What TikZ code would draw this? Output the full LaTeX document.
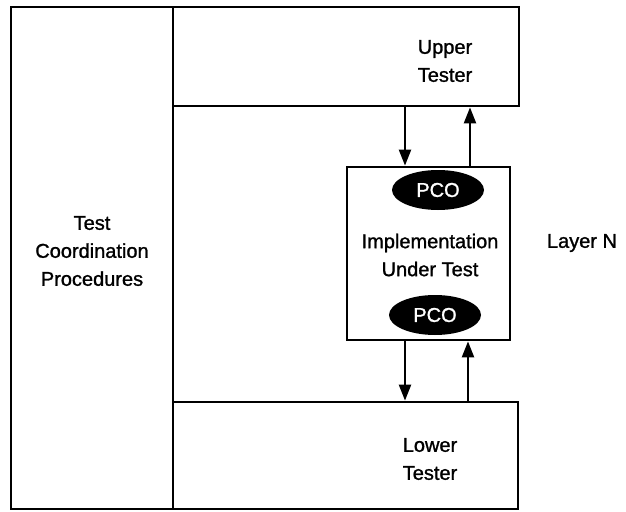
\documentclass[tikz,border=0pt]{standalone}
\usepackage{fontspec}
\setmainfont{Liberation Sans}
\newfontfamily\heavyfont{Liberation Sans}[FakeBold=1.2]
\usetikzlibrary{arrows.meta,shapes.geometric}
\begin{document}
\begin{tikzpicture}[x=1pt,y=-1pt,
  box/.style={draw,line width=2.8pt,rectangle,inner sep=0pt},
  lbl/.style={font=\heavyfont\fontsize{20}{28}\selectfont,align=center},
  pco/.style={ellipse,fill=black,text=white,minimum width=92pt,minimum height=40pt,inner sep=0pt,font=\heavyfont\fontsize{20}{24}\selectfont},
  arr/.style={line width=2.2pt,-{Triangle[length=16pt,width=12pt]}}]
\useasboundingbox (0,0) rectangle (626,511);
\node[box,minimum width=162pt,minimum height=502pt] (tcp) at (92,258) {};
\node[box,minimum width=346pt,minimum height=99pt] (upper) at (346,56.5) {};
\node[box,minimum width=345pt,minimum height=107pt] (lower) at (345.5,455.5) {};
\node[box,minimum width=163pt,minimum height=173pt] (iut) at (428.5,253.5) {};
\node[lbl] (tcpt) at (92,251) {Test\\Coordination\\Procedures};
\node[lbl] (uppert) at (445,61) {Upper\\Tester};
\node[lbl] (lowert) at (430,459) {Lower\\Tester};
\node[lbl] (iutt) at (430,255) {Implementation\\Under Test};
\node[lbl] (layer) at (582,243) {Layer N};
\node[pco] (pco1) at (438,190) {PCO};
\node[pco] (pco2) at (435,315) {PCO};
\draw[arr] (upper.south -| 405,0) -- (iut.north -| 405,0);
\draw[arr] (iut.north -| 470,0) -- (upper.south -| 470,0);
\draw[arr] (iut.south -| 405,0) -- (lower.north -| 405,0);
\draw[arr] (lower.north -| 468,0) -- (iut.south -| 468,0);
\end{tikzpicture}
\end{document}
